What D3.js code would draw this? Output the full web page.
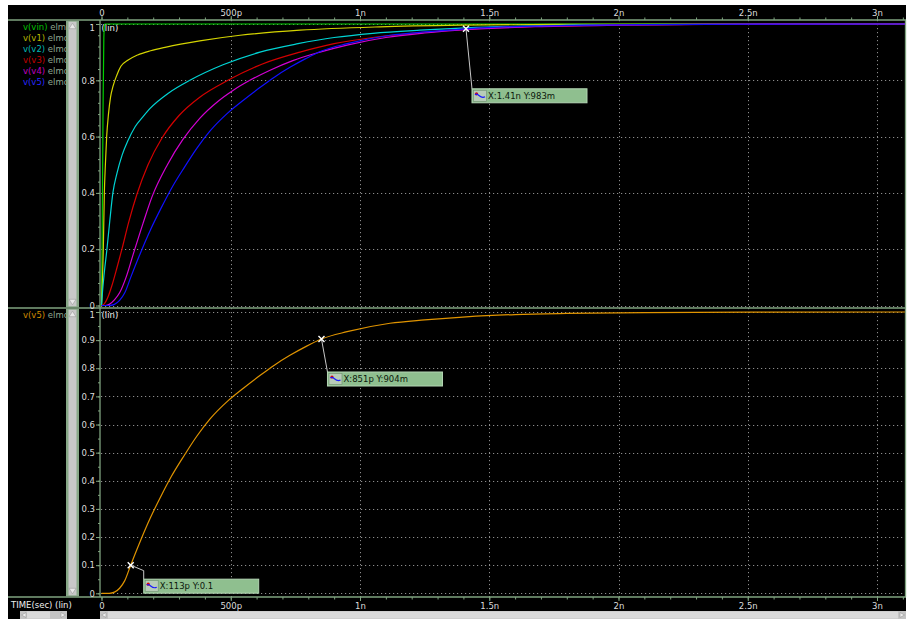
<!DOCTYPE html>
<html><head><meta charset="utf-8">
<script src="https://cdn.jsdelivr.net/npm/d3@7"></script>
<style>
body{margin:0;background:#fff}
svg{display:block}
text{font-family:"DejaVu Sans",sans-serif;font-size:8.5px}
</style>
</head><body>
<svg id="c" width="907" height="620"></svg>
<script>
// ---- data (time in picoseconds, voltage normalised) ----
const xTicks = [0, 500, 1000, 1500, 2000, 2500, 3000];
const xTickLabels = ["0", "500p", "1n", "1.5n", "2n", "2.5n", "3n"];
const topYTicks = [0, 0.2, 0.4, 0.6, 0.8, 1];
const topYLabels = ["0", "0.2", "0.4", "0.6", "0.8", "1"];
const botYTicks = [0, 0.1, 0.2, 0.3, 0.4, 0.5, 0.6, 0.7, 0.8, 0.9, 1];
const botYLabels = ["0", "0.1", "0.2", "0.3", "0.4", "0.5", "0.6", "0.7", "0.8", "0.9", "1"];

const topNames = ["v(vin)", "v(v1)", "v(v2)", "v(v3)", "v(v4)", "v(v5)"];
const botNames = ["v(v5)"];

const vin = [[-6,0],[0,0],[3,0.3],[6,0.7],[9,0.95],[12,1],[3108,1]];
const v1 = [[0,0],[4,0.1],[7,0.2],[11,0.4],[15,0.5],[20,0.6],[27,0.68],[35,0.74],[45,0.78],[60,0.82],[75,0.85],[100,0.87],[140,0.89],[190,0.905],[250,0.918],[380,0.94],[536,0.96],[768,0.978],[1077,0.99],[1400,0.996],[1800,0.999],[3108,1]];
const v2 = [[0,0],[4,0.05],[10,0.11],[21,0.2],[32,0.3],[44,0.4],[60,0.47],[80,0.535],[102,0.585],[130,0.635],[160,0.67],[188,0.7],[260,0.755],[342,0.8],[470,0.855],[613,0.9],[760,0.93],[900,0.952],[1050,0.967],[1232,0.978],[1410,0.986],[1700,0.994],[2000,0.998],[3108,1]];
const v3 = [[0,0],[10,0.005],[25,0.03],[40,0.07],[60,0.135],[79,0.2],[105,0.295],[137,0.395],[180,0.5],[234,0.595],[300,0.675],[380,0.74],[489,0.8],[620,0.857],[768,0.9],[900,0.93],[1050,0.952],[1200,0.967],[1410,0.982],[1700,0.992],[2000,0.997],[2300,0.999],[3108,1]];
const v4 = [[0,0],[15,0],[30,0.004],[50,0.02],[70,0.045],[95,0.1],[122,0.18],[160,0.29],[195,0.385],[255,0.5],[315,0.59],[380,0.665],[450,0.725],[510,0.765],[574,0.8],[650,0.835],[740,0.87],[845,0.9],[950,0.925],[1100,0.952],[1250,0.968],[1410,0.98],[1700,0.991],[2000,0.996],[2400,0.999],[3108,1]];
const v5 = [[0,0],[30,0],[50,0.004],[70,0.018],[90,0.045],[113,0.1],[150,0.185],[190,0.27],[230,0.345],[270,0.415],[320,0.49],[370,0.56],[420,0.62],[490,0.685],[550,0.73],[614,0.775],[670,0.812],[729,0.846],[790,0.877],[851,0.904],[950,0.93],[1116,0.96],[1250,0.972],[1410,0.983],[1600,0.991],[1800,0.995],[2100,0.998],[2500,0.9995],[3108,1]];

const topSeries = [vin, v1, v2, v3, v4, v5];
const botSeries = [v5];

// cursor readouts: panel, time, value, text
const cursorPanel = ["top", "bottom", "bottom"];
const cursorT = [1410, 851, 113];
const cursorV = [0.983, 0.904, 0.1];
const cursorText = ["X:1.41n Y:983m", "X:851p Y:904m", "X:113p Y:0.1"];

// ---- styling ----
const FRAME = "#7fa37f";
const TICKTXT = "#dcdcdc";
const topLine = ["#00d000", "#d4d400", "#00d4d4", "#d40000", "#d400d4", "#1010ff"];
const topLegend = ["#00c000", "#b8b800", "#00b8b8", "#c00000", "#c000c0", "#2828ff"];
const botLine = ["#e09400"];
const botLegend = ["#d08c00"];

const svg = d3.select("#c");
svg.append("rect").attr("x", 8).attr("y", 5).attr("width", 898).attr("height", 614).attr("fill", "#000");

const x = d3.scaleLinear().domain([-5.8, 3108.3]).range([100, 905]);
const yTop = d3.scaleLinear().domain([0, 1]).range([305.5, 24]);
const yBot = d3.scaleLinear().domain([0, 1]).range([593.3, 312]);

const defs = svg.append("defs");
defs.append("clipPath").attr("id", "cpTop").append("rect").attr("x", 100).attr("y", 20).attr("width", 805).attr("height", 288);
defs.append("clipPath").attr("id", "cpBot").append("rect").attr("x", 100).attr("y", 308).attr("width", 805).attr("height", 289);
defs.append("clipPath").attr("id", "cpLeg").append("rect").attr("x", 8).attr("y", 20).attr("width", 58).attr("height", 577);

// ---- grids ----
function grid(y, ticks, y0, y1) {
  const g = svg.append("g").attr("stroke", "#8c8c8c").attr("stroke-width", 1).attr("stroke-dasharray", "1.2,2.8");
  g.selectAll("line.h").data(ticks).join("line").attr("class", "h")
    .attr("x1", 101).attr("x2", 905).attr("y1", d => Math.round(y(d)) + 0.5).attr("y2", d => Math.round(y(d)) + 0.5);
  g.selectAll("line.v").data(xTicks.filter(d => d > 0)).join("line").attr("class", "v")
    .attr("x1", d => Math.round(x(d)) + 0.5).attr("x2", d => Math.round(x(d)) + 0.5).attr("y1", y0).attr("y2", y1);
}
grid(yTop, topYTicks, 20, 308);
grid(yBot, botYTicks, 308, 597);

// ---- frame lines ----
const frame = svg.append("g").attr("stroke", FRAME).attr("stroke-width", 1.3);
frame.append("line").attr("x1", 8).attr("x2", 906).attr("y1", 20).attr("y2", 20);
frame.append("line").attr("x1", 8).attr("x2", 906).attr("y1", 308).attr("y2", 308);
frame.append("line").attr("x1", 8).attr("x2", 906).attr("y1", 597).attr("y2", 597);
frame.append("line").attr("x1", 100).attr("x2", 100).attr("y1", 20).attr("y2", 597);
frame.append("line").attr("x1", 905.5).attr("x2", 905.5).attr("y1", 20).attr("y2", 597);

// ---- x axes ----
function xAxis(gen, ty, major, minor, labelY) {
  const gm = svg.append("g").attr("transform", `translate(0,${ty})`)
    .call(gen(x).tickValues(d3.range(0, 3101, 100)).tickSize(minor).tickFormat(""));
  const g = svg.append("g").attr("transform", `translate(0,${ty})`)
    .call(gen(x).tickValues(xTicks).tickSize(major).tickFormat((d, i) => xTickLabels[i]));
  [gm, g].forEach(a => { a.select(".domain").remove(); a.selectAll("line").attr("stroke", FRAME); });
  g.selectAll("text").attr("fill", TICKTXT).attr("font-family", "DejaVu Sans").attr("font-size", 8.5).attr("y", labelY);
}
xAxis(d3.axisTop, 20, 4, 2.5, -4);
xAxis(d3.axisBottom, 597, 4, 2.5, 5.5);

// ---- y axes ----
function yAxis(y, ticks, labels, minorStep, oneShift) {
  const gm = svg.append("g").attr("transform", "translate(100,0)")
    .call(d3.axisLeft(y).tickValues(d3.range(0, 1.0001, minorStep)).tickSize(2).tickFormat(""));
  const g = svg.append("g").attr("transform", "translate(100,0)")
    .call(d3.axisLeft(y).tickValues(ticks).tickSize(4).tickFormat((d, i) => labels[i]));
  [gm, g].forEach(a => { a.select(".domain").remove(); a.selectAll("line").attr("stroke", FRAME); });
  g.selectAll("text").attr("fill", TICKTXT).attr("font-family", "DejaVu Sans").attr("font-size", 8.5).attr("x", -5);
  g.selectAll(".tick").filter(d => d === 1).select("text").attr("y", oneShift);
  svg.append("text").attr("x", 101.5).attr("y", y(1) + oneShift).attr("dy", "0.32em")
    .attr("fill", "#f0f0f0").text("(lin)");
}
yAxis(yTop, topYTicks, topYLabels, 0.04, 4);
yAxis(yBot, botYTicks, botYLabels, 0.05, 3);

// ---- waveforms ----
function traces(series, colors, y, clip) {
  const line = d3.line().x(d => x(d[0])).y(d => y(d[1])).curve(d3.curveMonotoneX);
  svg.append("g").attr("clip-path", `url(#${clip})`).selectAll("path").data(series).join("path")
    .attr("d", line).attr("fill", "none").attr("stroke", (d, i) => colors[i]).attr("stroke-width", 1.2);
}
traces(topSeries, topLine, yTop, "cpTop");
traces(botSeries, botLine, yBot, "cpBot");

// ---- legends ----
function legend(names, colors, y0) {
  const g = svg.append("g").attr("clip-path", "url(#cpLeg)");
  names.forEach((n, i) => {
    const t = g.append("text").attr("x", 23).attr("y", y0 + i * 11).attr("dy", "0.32em");
    t.append("tspan").attr("fill", colors[i]).text(n);
    t.append("tspan").attr("fill", "#8fa58f").text(" elmore");
  });
}
legend(topNames, topLegend, 27);
legend(botNames, botLegend, 315);

// ---- scrollbars ----
function vScroll(y0, y1) {
  svg.append("rect").attr("x", 66).attr("y", y0).attr("width", 13).attr("height", y1 - y0).attr("fill", "#88a888");
  svg.append("rect").attr("x", 68.5).attr("y", y0 + 1).attr("width", 8).attr("height", y1 - y0 - 2).attr("fill", "#c8c8c8");
  svg.append("path").attr("d", `M72.5,${y0 + 2.5}L76,${y0 + 8}L69,${y0 + 8}Z`).attr("fill", "#e8e8e8").attr("stroke", "#9a9a9a").attr("stroke-width", 0.6);
  svg.append("path").attr("d", `M72.5,${y1 - 2.5}L76,${y1 - 8}L69,${y1 - 8}Z`).attr("fill", "#e8e8e8").attr("stroke", "#9a9a9a").attr("stroke-width", 0.6);
}
vScroll(20.7, 307.3);
vScroll(308.7, 596.3);

function hScroll(x0, x1, thumb0, thumb1) {
  svg.append("rect").attr("x", x0).attr("y", 611).attr("width", x1 - x0).attr("height", 8).attr("fill", "#c4c4c4");
  svg.append("rect").attr("x", thumb0).attr("y", 611.5).attr("width", thumb1 - thumb0).attr("height", 7).attr("fill", "#dadada");
  svg.append("path").attr("d", `M${x0 + 1.5},615L${x0 + 6},612.5L${x0 + 6},617.5Z`).attr("fill", "#eee").attr("stroke", "#999").attr("stroke-width", 0.6);
  svg.append("path").attr("d", `M${x1 - 1.5},615L${x1 - 6},612.5L${x1 - 6},617.5Z`).attr("fill", "#eee").attr("stroke", "#999").attr("stroke-width", 0.6);
}
hScroll(20, 67, 27, 50);
hScroll(100, 906, 108, 898);

svg.append("text").attr("x", 11).attr("y", 608.3).attr("fill", "#f0f0f0").text("TIME(sec) (lin)");

// ---- cursor readouts ----
const calloutDx = [6, 6, 13];
const calloutDy = [60, 33, 14];
const calloutElbow = [false, false, true];
cursorT.forEach((t, i) => {
  const y = cursorPanel[i] === "top" ? yTop : yBot;
  const mx = x(t), my = y(cursorV[i]);
  const bx = mx + calloutDx[i], by = my + calloutDy[i];
  const g = svg.append("g");
  const pts = calloutElbow[i] ? [[mx, my], [bx, my + 5.5], [bx, by]] : [[mx, my], [bx, by]];
  g.append("path").attr("d", d3.line()(pts)).attr("fill", "none").attr("stroke", "#c8c8c8").attr("stroke-width", 1);
  g.append("path").attr("d", `M${mx - 3},${my - 3}L${mx + 3},${my + 3}M${mx - 3},${my + 3}L${mx + 3},${my - 3}`)
    .attr("stroke", "#fff").attr("stroke-width", 1.4);
  g.append("rect").attr("x", bx).attr("y", by).attr("width", 115).attr("height", 14)
    .attr("fill", "#8fbf8f").attr("stroke", "#b4d6b4").attr("stroke-width", 1);
  g.append("rect").attr("x", bx + 1.5).attr("y", by + 1.5).attr("width", 13).attr("height", 11)
    .attr("fill", "#b8ccb8").attr("stroke", "#6f8f6f").attr("stroke-width", 0.6);
  g.append("circle").attr("cx", bx + 4.5).attr("cy", by + 5).attr("r", 1.6).attr("fill", "#e00000");
  g.append("path").attr("d", `M${bx + 3},${by + 6}C${bx + 6},${by + 3} ${bx + 8},${by + 11} ${bx + 13},${by + 8}`)
    .attr("fill", "none").attr("stroke", "#1a1aff").attr("stroke-width", 1.2);
  g.append("text").attr("x", bx + 16).attr("y", by + 7).attr("dy", "0.35em").attr("fill", "#0c180c").text(cursorText[i]);
});
</script>
</body></html>
